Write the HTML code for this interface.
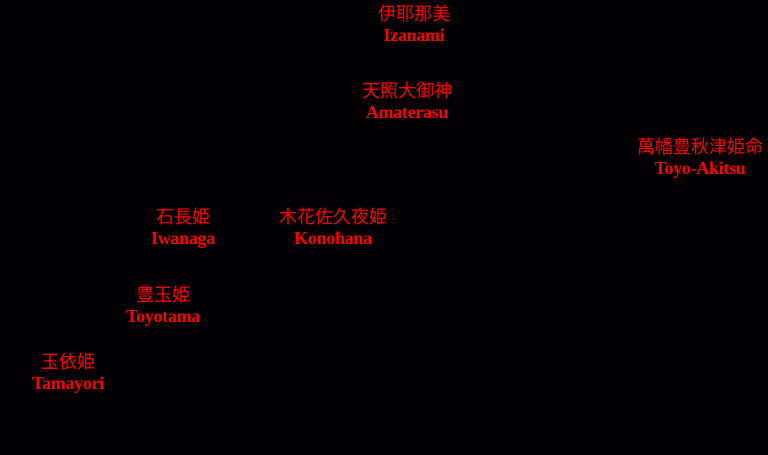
<!DOCTYPE html>
<html><head><meta charset="utf-8"><style>
html,body{margin:0;padding:0;background:#020005;width:768px;height:455px;overflow:hidden;position:relative}
.n{position:absolute;width:200px;margin-left:-100px;text-align:center;color:#ff0000;white-space:nowrap}
.j{font-family:"Liberation Sans","Noto Sans CJK JP",sans-serif;font-size:18px;line-height:22px;height:22px}
.l{font-family:"Liberation Serif",serif;font-weight:bold;font-size:18px;line-height:20px;letter-spacing:-0.3px}
</style></head><body>
<div class="n" style="left:414px;top:3px"><div class="j">伊耶那美</div><div class="l">Izanami</div></div>
<div class="n" style="left:407px;top:80px"><div class="j">天照大御神</div><div class="l">Amaterasu</div></div>
<div class="n" style="left:700px;top:136px"><div class="j">萬幡豊秋津姫命</div><div class="l">Toyo-Akitsu</div></div>
<div class="n" style="left:183px;top:206px"><div class="j">石長姫</div><div class="l">Iwanaga</div></div>
<div class="n" style="left:333px;top:206px"><div class="j">木花佐久夜姫</div><div class="l">Konohana</div></div>
<div class="n" style="left:163px;top:284px"><div class="j">豊玉姫</div><div class="l">Toyotama</div></div>
<div class="n" style="left:68px;top:351px"><div class="j">玉依姫</div><div class="l">Tamayori</div></div>
</body></html>
